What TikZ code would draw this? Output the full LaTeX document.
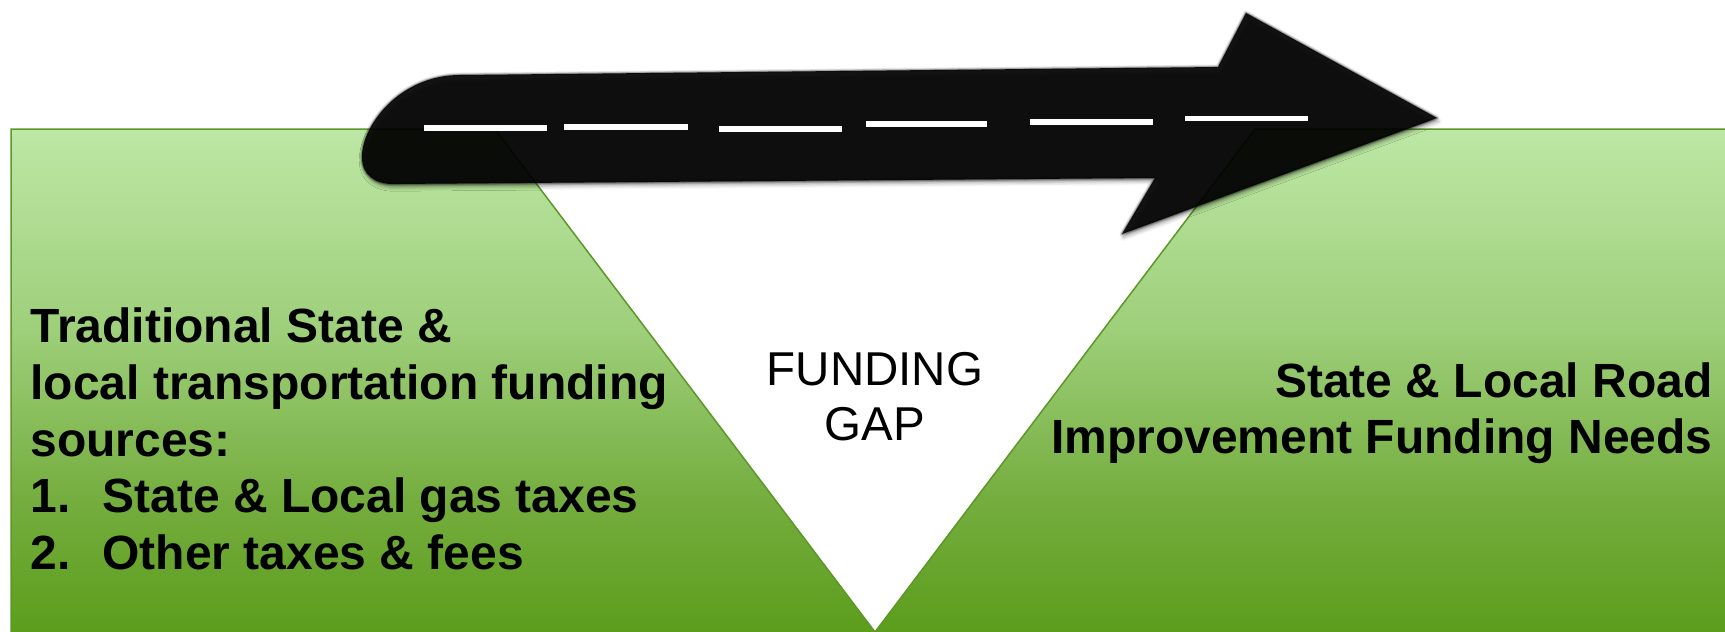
\documentclass[tikz,border=0pt]{standalone}
\usepackage{fontspec}
\setmainfont{Liberation Sans}
\usetikzlibrary{shadows.blur}

% Colours
\definecolor{gtop}{RGB}{189,231,165}
\definecolor{gmid}{RGB}{158,207,122}
\definecolor{glow}{RGB}{116,173,62}
\definecolor{gbot}{RGB}{92,157,28}
\definecolor{gedge}{RGB}{92,152,40}
\definecolor{roadblack}{RGB}{0,0,0}

% Vertical fade of the green ground (25bp..75bp spans the filled path)
\pgfdeclareverticalshading{greenfade}{100bp}{%
  color(0bp)=(gbot); color(25bp)=(gbot); color(38bp)=(glow);
  color(55bp)=(gmid); color(75bp)=(gtop); color(100bp)=(gtop)}

\tikzset{
  ground/.style={shading=greenfade},
  groundedge/.style={draw=gedge, line width=0.75pt, line join=miter},
  roadshape/.style={insert path={(460,75) -- (1218,67) -- (1246,13) -- (1437,118)
      -- (1122,234) -- (1155,178) -- (393,184)
      .. controls (375,184) and (362,175) .. (362,157)
      .. controls (362,125) and (400,75) .. (460,75) -- cycle}},
  roadfill/.style={fill=roadblack, fill opacity=0.91},
  roaddash/.style={draw=white, line width=2.75pt, line cap=butt},
  boldtext/.style={font=\fontsize{24}{28.3}\selectfont\bfseries, text=black, inner sep=0pt},
  gaptext/.style={font=\fontsize{23.75}{27.5}\selectfont, text=black, inner sep=0pt},
}

\begin{document}
\begin{tikzpicture}[x=0.5pt, y=-0.5pt]
\useasboundingbox (0,0) rectangle (1725,632);

% Green ground with the V-shaped funding gap cut out
\fill[ground] (11,129) -- (495,129) -- (875,632) -- (1255,129) -- (1725,129)
  -- (1725,632) -- (11,632) -- cycle;
\draw[groundedge] (11,632) -- (11,129) -- (495,129) -- (875,632)
  -- (1255,129) -- (1726,129);

% Road arrow: soft shadow, soft edge, body
\path[blur shadow={shadow xshift=0.6pt, shadow yshift=-1.6pt,
  shadow blur radius=2pt, shadow opacity=40}, roadshape];
\foreach \w/\o in {5/0.08, 3.2/0.14, 1.6/0.25} {
  \draw[draw=roadblack, line width=\w*0.5pt, line join=round, draw opacity=\o, roadshape];
}
\fill[roadfill, roadshape];

% Lane markings
\draw[roaddash] (424,128) -- (547,128);
\draw[roaddash] (564,127) -- (688,127);
\draw[roaddash] (719,129) -- (842,129);
\draw[roaddash] (866,124) -- (987,124);
\draw[roaddash] (1030,122) -- (1153,122);
\draw[roaddash] (1185,118.5) -- (1308,118.5);

% Gap label
\node[gaptext, anchor=base] (gapA) at (875,385) {FUNDING};
\node[gaptext, anchor=base] (gapB) at (875,440) {GAP};

% Left: traditional sources
\node[boldtext, anchor=base west] (srcA) at (30,342.7) {Traditional State \&};
\node[boldtext, anchor=base west] (srcB) at (30,399.3) {local transportation funding};
\node[boldtext, anchor=base west] (srcC) at (30,456) {sources:};
\node[boldtext, anchor=base west] (numA) at (30,512.6) {1.};
\node[boldtext, anchor=base west] (itemA) at (102,512.6) {State \& Local gas taxes};
\node[boldtext, anchor=base west] (numB) at (30,569.2) {2.};
\node[boldtext, anchor=base west] (itemB) at (102,569.2) {Other taxes \& fees};

% Right: funding needs
\node[boldtext, anchor=base east] (needA) at (1713,397) {State \& Local Road};
\node[boldtext, anchor=base east] (needB) at (1713,453.5) {Improvement Funding Needs};
\end{tikzpicture}
\end{document}
